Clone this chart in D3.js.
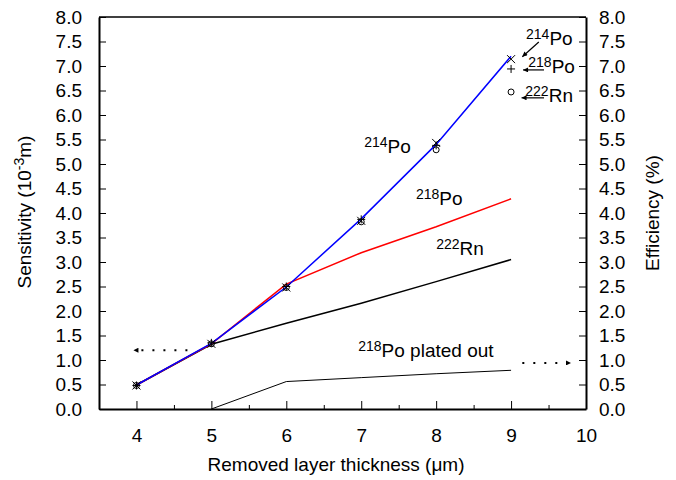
<!DOCTYPE html>
<html>
<head>
<meta charset="utf-8">
<script src="https://cdn.jsdelivr.net/npm/d3@7"></script>
<style>
 body { margin: 0; background: #fff; }
 text { font-family: "Liberation Sans", Arial, sans-serif; fill: #000; }
</style>
</head>
<body>
<script>
const width = 676;
const height = 480;

// removed layer thickness (um)
const thickness = [4, 5, 6, 7, 8, 9];
// sensitivity curves (10^-3 m)
const po214 = [0.49, 1.34, 2.49, 3.88, 5.40, 7.20];
const po218 = [0.49, 1.33, 2.55, 3.19, 3.72, 4.29];
const rn222 = [0.49, 1.32, 1.75, 2.16, 2.60, 3.05];
const platedThickness = [5, 6, 7, 8, 9];
const plated = [0.0, 0.56, 0.64, 0.72, 0.79];
// efficiency points (%)
const eff214 = [0.48, 1.33, 2.48, 3.84, 5.43, 7.14];
const eff218 = [0.48, 1.35, 2.50, 3.87, 5.38, 6.94];
const eff222 = [0.48, 1.33, 2.48, 3.82, 5.29, 6.47];

const yTicks = d3.range(0, 8.01, 0.5);
const xTicks = [4, 5, 6, 7, 8, 9, 10];
const xMinor = [4.5, 5.5, 6.5, 7.5, 8.5, 9.5];

const x = d3.scaleLinear().domain([3.5, 10]).range([99, 586]);
const y = d3.scaleLinear().domain([0, 8]).range([409, 17]);

const svg = d3.select("body").append("svg")
  .attr("width", width)
  .attr("height", height);

svg.append("defs").append("marker")
  .attr("id", "head")
  .attr("viewBox", "0 0 10 10")
  .attr("refX", 10).attr("refY", 5)
  .attr("markerWidth", 8).attr("markerHeight", 5)
  .attr("markerUnits", "userSpaceOnUse")
  .attr("orient", "auto")
  .append("path").attr("d", "M0,0 L10,5 L0,10 Z").attr("fill", "#000");

// top frame line
svg.append("line")
  .attr("x1", x(3.5)).attr("x2", x(10))
  .attr("y1", y(8)).attr("y2", y(8))
  .attr("stroke", "#000").attr("stroke-width", 1.5);

const fmt = d3.format(".1f");

const gl = svg.append("g").attr("transform", "translate(" + x(3.5) + ",0)")
  .call(d3.axisLeft(y).tickValues(yTicks).tickFormat(fmt).tickSizeInner(-7).tickSizeOuter(0).tickPadding(17));
const gr = svg.append("g").attr("transform", "translate(" + x(10) + ",0)")
  .call(d3.axisRight(y).tickValues(yTicks).tickFormat(fmt).tickSizeInner(-7).tickSizeOuter(0).tickPadding(13));
const gb = svg.append("g").attr("transform", "translate(0," + y(0) + ")")
  .call(d3.axisBottom(x).tickValues(xTicks).tickFormat(d3.format("d")).tickSizeInner(-8).tickSizeOuter(0).tickPadding(20));
const gm = svg.append("g").attr("transform", "translate(0," + y(0) + ")")
  .call(d3.axisBottom(x).tickValues(xMinor).tickFormat("").tickSizeInner(-4).tickSizeOuter(0));
gm.select(".domain").remove();

[gl, gr, gb, gm].forEach(g => {
  g.selectAll("text").style("font-size", "19px").attr("font-family", null);
  g.select(".domain").attr("stroke-width", 2);
  g.selectAll(".tick line").attr("stroke-width", 1);
});

// axis titles
const t1 = svg.append("text")
  .attr("transform", "translate(31,212) rotate(-90)")
  .attr("text-anchor", "middle").style("font-size", "19px");
t1.append("tspan").text("Sensitivity (10");
t1.append("tspan").attr("dy", -7).style("font-size", "14px").text("-3");
t1.append("tspan").attr("dy", 7).text("m)");

svg.append("text")
  .attr("transform", "translate(659,213) rotate(-90)")
  .attr("text-anchor", "middle").style("font-size", "19px")
  .text("Efficiency (%)");

svg.append("text")
  .attr("x", 336).attr("y", 471)
  .attr("text-anchor", "middle").style("font-size", "19px")
  .text("Removed layer thickness (\u03bcm)");

// curves
const line = d3.line().x(d => x(d[0])).y(d => y(d[1]));
function curve(xs, ys, color, w) {
  svg.append("path")
    .datum(xs.map((v, i) => [v, ys[i]]))
    .attr("d", line)
    .attr("fill", "none")
    .attr("stroke", color)
    .attr("stroke-width", w);
}
curve(thickness, rn222, "#000", 1.5);
curve(platedThickness, plated, "#000", 1);
curve(thickness, po218, "#ff0000", 1.5);
curve(thickness, po214, "#0000ff", 1.5);

// efficiency markers
const s = 4;
svg.append("g").selectAll("path")
  .data(thickness.map((v, i) => [v, eff214[i]]))
  .join("path")
  .attr("d", d => {
    const cx = x(d[0]), cy = y(d[1]);
    return "M" + (cx - s) + "," + (cy - s) + "L" + (cx + s) + "," + (cy + s) +
      "M" + (cx - s) + "," + (cy + s) + "L" + (cx + s) + "," + (cy - s);
  })
  .attr("stroke", "#000").attr("stroke-width", 1).attr("fill", "none");
svg.append("g").selectAll("path")
  .data(thickness.map((v, i) => [v, eff218[i]]))
  .join("path")
  .attr("d", d => {
    const cx = x(d[0]), cy = y(d[1]);
    return "M" + (cx - s) + "," + cy + "L" + (cx + s) + "," + cy +
      "M" + cx + "," + (cy - s) + "L" + cx + "," + (cy + s);
  })
  .attr("stroke", "#000").attr("stroke-width", 1).attr("fill", "none");
svg.append("g").selectAll("circle")
  .data(thickness.map((v, i) => [v, eff222[i]]))
  .join("circle")
  .attr("cx", d => x(d[0])).attr("cy", d => y(d[1])).attr("r", 3)
  .attr("stroke", "#000").attr("stroke-width", 1).attr("fill", "none");

// labels with superscript mass numbers
function isoLabel(mass, name, lx, ly, rest) {
  const t = svg.append("text")
    .attr("x", x(lx)).attr("y", y(ly))
    .style("font-size", "19px");
  t.append("tspan").attr("dy", -6).style("font-size", "14px").text(mass);
  t.append("tspan").attr("dy", 6).text(name + (rest || ""));
}
isoLabel("214", "Po", 9.2, 7.43);
isoLabel("218", "Po", 9.23, 6.86);
isoLabel("222", "Rn", 9.19, 6.27);
isoLabel("214", "Po", 7.04, 5.22);
isoLabel("218", "Po", 7.73, 4.16);
isoLabel("222", "Rn", 8.0, 3.14);
isoLabel("218", "Po", 6.96, 1.06, " plated out");

// arrows
function arrow(x1, y1, x2, y2, dotted) {
  svg.append("line")
    .attr("x1", x(x1)).attr("y1", y(y1))
    .attr("x2", x(x2)).attr("y2", y(y2))
    .attr("stroke", "#000").attr("stroke-width", dotted ? 2 : 1.2)
    .attr("stroke-dasharray", dotted ? "2,9" : null)
    .attr("marker-end", "url(#head)");
}
arrow(9.37, 7.49, 9.15, 7.19, false);
arrow(9.44, 6.92, 9.16, 6.92, false);
arrow(9.44, 6.35, 9.14, 6.35, false);
arrow(4.68, 1.20, 3.96, 1.20, true);
arrow(9.15, 0.94, 9.8, 0.94, true);
</script>
</body>
</html>
